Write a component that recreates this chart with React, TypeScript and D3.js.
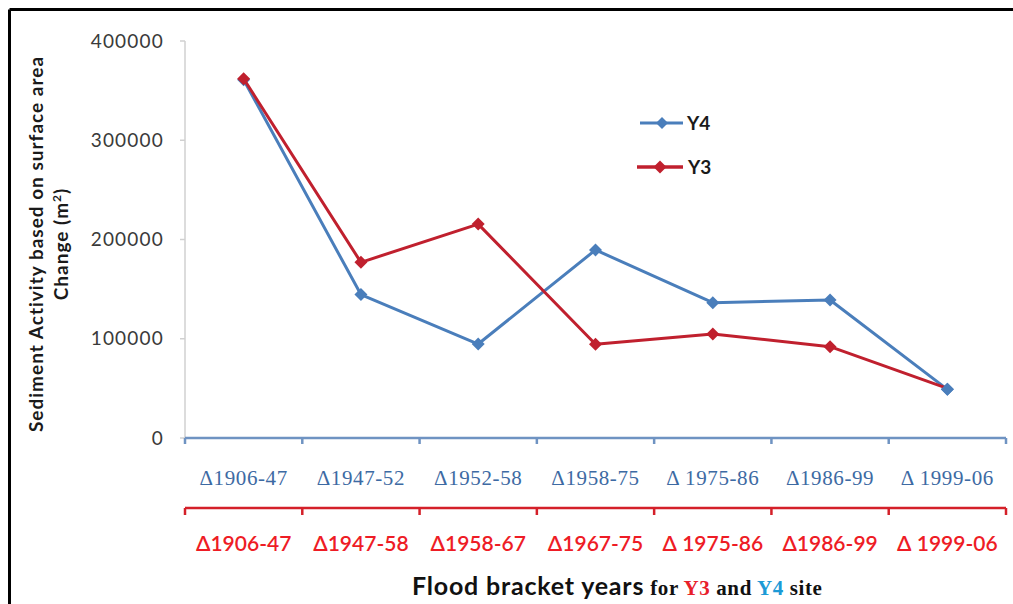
import React from "react";
import * as d3 from "d3";

const blueCategories = ["Δ1906-47", "Δ1947-52", "Δ1952-58", "Δ1958-75", "Δ 1975-86", "Δ1986-99", "Δ 1999-06"];
const redCategories = ["Δ1906-47", "Δ1947-58", "Δ1958-67", "Δ1967-75", "Δ 1975-86", "Δ1986-99", "Δ 1999-06"];
const y4Values = [361000, 144500, 94700, 189500, 136300, 139000, 49000];
const y3Values = [362000, 177000, 215500, 94400, 104800, 92000, 50000];
const yTicks = [0, 100000, 200000, 300000, 400000];

const W = 1013, H = 604;
const left = 185, right = 1006, top = 41, bottom = 438;
const BLUE = "#4a7ebb";
const RED = "#c0202e";
const BLUE_TXT = "#3d6aa3";
const RED_TXT = "#ee1c25";

export default function App() {
  const idx = d3.range(blueCategories.length);
  const xBand = d3.scaleBand<number>().domain(idx).range([left, right]).padding(0);
  const xc = (i: number) => (xBand(i) as number) + xBand.bandwidth() / 2;
  const y = d3.scaleLinear().domain([0, 400000]).range([bottom, top]);
  const line = d3.line<number>().x((_, i) => xc(i)).y((v) => y(v));
  const diamond = (cx: number, cy: number, r: number) =>
    `M${cx},${cy - r}L${cx + r},${cy}L${cx},${cy + r}L${cx - r},${cy}Z`;
  const boundaries = d3.range(blueCategories.length + 1).map((i) =>
    i < blueCategories.length ? (xBand(i) as number) : right
  );
  const redAxisY = 508;
  const serif = "'Liberation Serif', 'Times New Roman', serif";
  const sans = "Lato, 'Open Sans', sans-serif";

  return (
    <div style={{ position: "fixed", left: 0, top: 0, width: W, height: H, background: "#fff" }}>
      <svg width={W} height={H} style={{ display: "block" }}>
        <rect x={0} y={0} width={W} height={H} fill="#fff" />
        {/* frame */}
        <line x1={9.5} y1={9.5} x2={W} y2={9.5} stroke="#000" strokeWidth={3} />
        <line x1={9.5} y1={9.5} x2={9.5} y2={H} stroke="#000" strokeWidth={3} />

        {/* y axis */}
        <line x1={left} y1={top} x2={left} y2={bottom} stroke="#d0d0d0" strokeWidth={1.5} />
        {yTicks.map((t) => (
          <g key={t}>
            <line x1={left - 5} x2={left} y1={y(t)} y2={y(t)} stroke="#d0d0d0" strokeWidth={1.5} />
            <text x={164} y={y(t)} dy="0.35em" textAnchor="end" fontFamily={sans}
              fontSize={19} letterSpacing={1.2} fill="#3a3a3a">{t}</text>
          </g>
        ))}

        {/* blue x axis */}
        <line x1={left} x2={right} y1={bottom} y2={bottom} stroke="#6f93c2" strokeWidth={2.5} />
        {boundaries.map((bx, i) => (
          <line key={"bt" + i} x1={bx} x2={bx} y1={bottom} y2={bottom + 6} stroke="#6f93c2" strokeWidth={2.5} />
        ))}
        {blueCategories.map((c, i) => (
          <text key={"bl" + i} x={xc(i)} y={478} dy="0.35em" textAnchor="middle"
            fontFamily={serif} fontSize={21} letterSpacing={0.6} fill={BLUE_TXT}>{c}</text>
        ))}

        {/* red x axis */}
        <line x1={left} x2={right} y1={redAxisY} y2={redAxisY} stroke="#d42029" strokeWidth={2.5} />
        {boundaries.map((bx, i) => (
          <line key={"rt" + i} x1={bx} x2={bx} y1={redAxisY} y2={redAxisY + 7} stroke="#d42029" strokeWidth={2.5} />
        ))}
        {redCategories.map((c, i) => (
          <text key={"rl" + i} x={xc(i)} y={544} dy="0.35em" textAnchor="middle"
            fontFamily={sans} fontWeight={600} fontSize={21} fill={RED_TXT}>{c}</text>
        ))}

        {/* series */}
        <path d={line(y4Values) || ""} fill="none" stroke={BLUE} strokeWidth={3} strokeLinejoin="round" />
        {y4Values.map((v, i) => (
          <path key={"bm" + i} d={diamond(xc(i), y(v), 6.5)} fill={BLUE} />
        ))}
        <path d={line(y3Values) || ""} fill="none" stroke={RED} strokeWidth={3} strokeLinejoin="round" />
        {y3Values.map((v, i) =>
          i < y3Values.length - 1 ? <path key={"rm" + i} d={diamond(xc(i), y(v), 6.5)} fill={RED} /> : null
        )}
        {/* last blue marker sits on top in the reference */}
        <path d={diamond(xc(y4Values.length - 1), y(y4Values[y4Values.length - 1]), 6.5)} fill={BLUE} />

        {/* legend */}
        <line x1={640} x2={683} y1={123} y2={123} stroke={BLUE} strokeWidth={3} />
        <path d={diamond(662, 123, 6)} fill={BLUE} />
        <text x={687} y={123} dy="0.36em" fontFamily={sans} fontWeight={700} fontSize={19} fill="#1a1a1a">Y4</text>
        <line x1={637} x2={683} y1={167} y2={167} stroke={RED} strokeWidth={3.5} />
        <path d={diamond(660, 167, 6.5)} fill={RED} />
        <text x={688} y={167} dy="0.36em" fontFamily={sans} fontWeight={700} fontSize={19} fill="#1a1a1a">Y3</text>

        {/* y title */}
        <g transform="translate(43,244) rotate(-90)">
          <text x={0} y={0} textAnchor="middle" fontFamily={sans} fontWeight={700} fontSize={19} letterSpacing={1.0} fill="#1a1a1a">
            Sediment Activity based on surface area
          </text>
          <text x={0} y={25} textAnchor="middle" fontFamily={sans} fontWeight={700} fontSize={19} letterSpacing={1.0} fill="#1a1a1a">
            Change (m<tspan dy={-7} fontSize={12}>2</tspan><tspan dy={7}>)</tspan>
          </text>
        </g>

        {/* x title */}
        <text x={412} y={595} fontFamily={sans} fontWeight={700} fontSize={25} letterSpacing={0.8} fill="#111">
          Flood bracket years
          <tspan fontFamily={serif} fontSize={21} letterSpacing={0.6} dx={6}>for </tspan>
          <tspan fontFamily={serif} fontSize={21} letterSpacing={0.6} fill="#e8202a">Y3</tspan>
          <tspan fontFamily={serif} fontSize={21} letterSpacing={0.6}> and </tspan>
          <tspan fontFamily={serif} fontSize={21} letterSpacing={0.6} fill="#1c9ad6">Y4</tspan>
          <tspan fontFamily={serif} fontSize={21} letterSpacing={0.6}> site</tspan>
        </text>
      </svg>
    </div>
  );
}
